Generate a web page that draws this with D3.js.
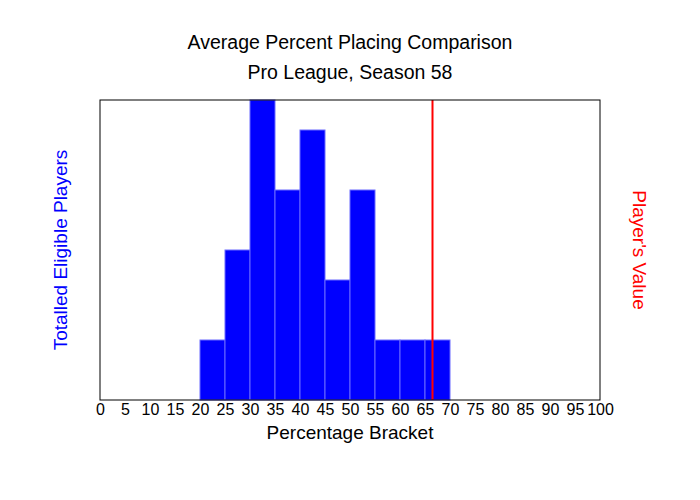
<!DOCTYPE html>
<html>
<head>
<meta charset="utf-8">
<script src="https://cdn.jsdelivr.net/npm/d3@7"></script>
<style>
  body { margin: 0; background: #fff; }
  text { font-family: "Liberation Sans", Arial, sans-serif; }
</style>
</head>
<body>
<div id="chart"></div>
<script>
// bracket starts (percent) and number of players in each 5% bracket
const brackets = [20, 25, 30, 35, 40, 45, 50, 55, 60, 65];
const counts = [2, 5, 10, 7, 9, 4, 7, 2, 2, 2];
const xTicks = d3.range(0, 101, 5);
const playerValue = 66.5;
const titleLines = ["Average Percent Placing Comparison", "Pro League, Season 58"];

const width = 700, height = 500;
const margin = { top: 100, right: 100, bottom: 100, left: 100 };
const innerW = width - margin.left - margin.right;
const innerH = height - margin.top - margin.bottom;

const svg = d3.select("#chart").append("svg")
    .attr("width", width)
    .attr("height", height);

const g = svg.append("g")
    .attr("transform", `translate(${margin.left},${margin.top})`);

const x = d3.scaleLinear().domain([0, 100]).range([0, innerW]);
const y = d3.scaleLinear().domain([0, d3.max(counts)]).range([innerH, 0]);

// bars
g.selectAll("rect.bar")
    .data(brackets)
    .join("rect")
    .attr("class", "bar")
    .attr("x", d => x(d))
    .attr("width", d => x(d + 5) - x(d))
    .attr("y", (d, i) => y(counts[i]))
    .attr("height", (d, i) => innerH - y(counts[i]))
    .attr("fill", "#0000ff")
    .attr("stroke", "#6b6bff")
    .attr("stroke-width", 1);

// player's value line
g.append("line")
    .attr("x1", x(playerValue))
    .attr("x2", x(playerValue))
    .attr("y1", 0)
    .attr("y2", innerH)
    .attr("stroke", "#ff0000")
    .attr("stroke-width", 2);

// frame
g.append("rect")
    .attr("width", innerW)
    .attr("height", innerH)
    .attr("fill", "none")
    .attr("stroke", "#000")
    .attr("stroke-width", 1);

// x axis labels
const xAxis = g.append("g")
    .attr("transform", `translate(0,${innerH})`)
    .call(d3.axisBottom(x).tickValues(xTicks).tickSize(0).tickPadding(4));
xAxis.select(".domain").remove();
xAxis.selectAll("text")
    .attr("fill", "#000")
    .style("font-size", "16px")
    .style("font-family", "'Liberation Sans', Arial, sans-serif");

// titles
svg.selectAll("text.title")
    .data(titleLines)
    .join("text")
    .attr("class", "title")
    .attr("x", margin.left + innerW / 2)
    .attr("y", (d, i) => 49 + i * 30)
    .attr("text-anchor", "middle")
    .style("font-size", "19.5px")
    .text(d => d);

svg.append("text")
    .attr("x", margin.left + innerW / 2)
    .attr("y", 439)
    .attr("text-anchor", "middle")
    .style("font-size", "19px")
    .text("Percentage Bracket");

svg.append("text")
    .attr("transform", `translate(67,${margin.top + innerH / 2}) rotate(-90)`)
    .attr("text-anchor", "middle")
    .attr("fill", "#0000ff")
    .style("font-size", "19px")
    .text("Totalled Eligible Players");

svg.append("text")
    .attr("transform", `translate(633,${margin.top + innerH / 2}) rotate(90)`)
    .attr("text-anchor", "middle")
    .attr("fill", "#ff0000")
    .style("font-size", "19px")
    .text("Player's Value");
</script>
</body>
</html>
